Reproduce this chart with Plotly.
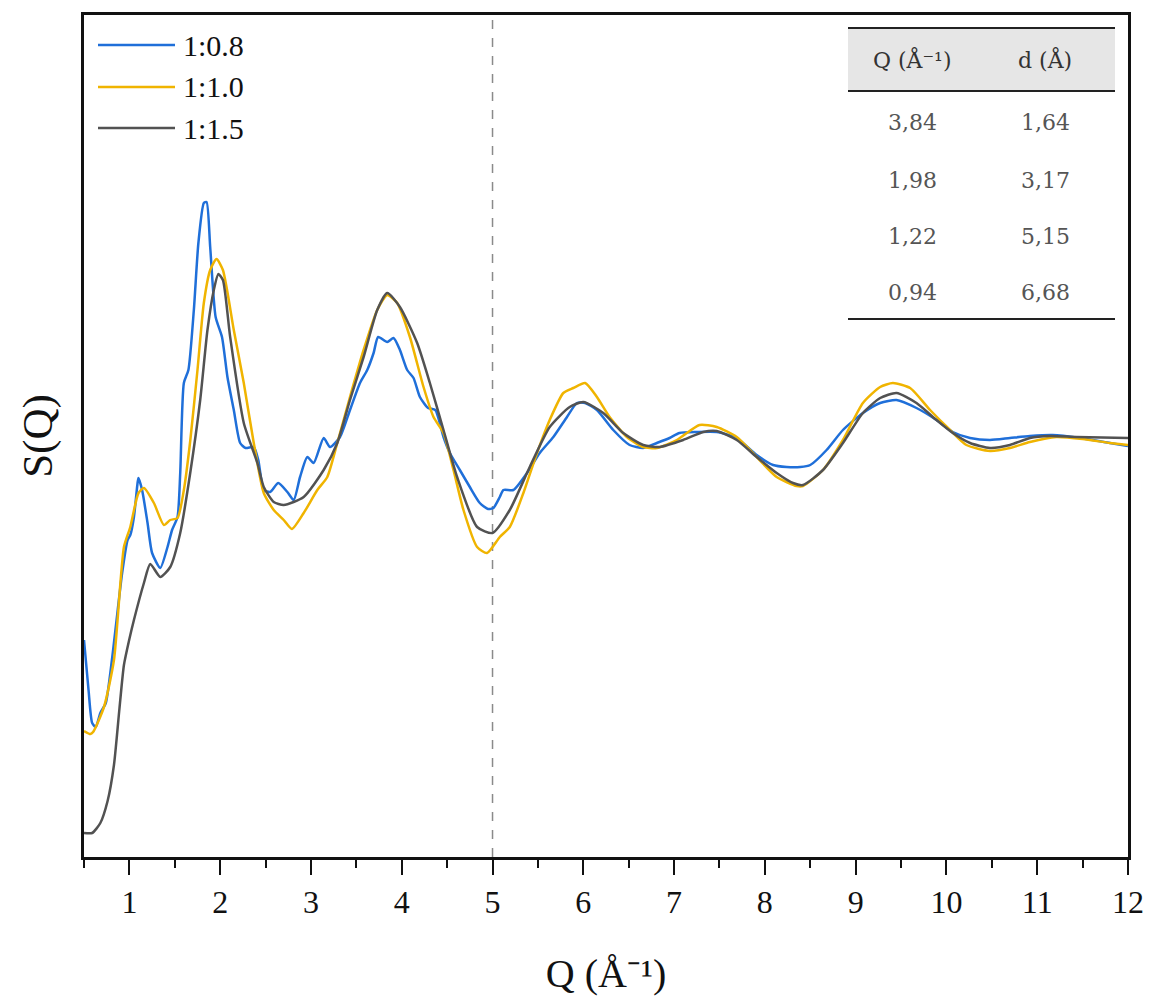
import plotly.graph_objects as go

# ---------------- data ----------------
series_names = ["1:0.8", "1:1.0", "1:1.5"]
series_colors = ["#1f6fd9", "#f0b400", "#525252"]

q_08 = [0.50, 0.55, 0.59, 0.63, 0.68, 0.74, 0.79, 0.85, 0.92, 0.98, 1.01, 1.05, 1.09, 1.10, 1.14,
        1.20, 1.25, 1.34, 1.42, 1.47, 1.53, 1.56, 1.60, 1.65, 1.71, 1.76, 1.82, 1.85, 1.89, 1.95,
        2.02, 2.08, 2.15, 2.22, 2.28, 2.37, 2.42, 2.48, 2.55, 2.64, 2.74, 2.81, 2.88, 2.96, 3.03,
        3.14, 3.21, 3.32, 3.43, 3.54, 3.62, 3.69, 3.74, 3.84, 3.91, 3.98, 4.06, 4.13, 4.20, 4.29,
        4.37, 4.46, 4.53, 4.64, 4.75, 4.86, 4.95, 5.01, 5.08, 5.12, 5.23, 5.38, 5.52, 5.67, 5.82,
        5.93, 6.02, 6.15, 6.33, 6.51, 6.66, 6.81, 6.95, 7.06, 7.25, 7.47, 7.69, 7.91, 8.09, 8.24,
        8.39, 8.50, 8.68, 8.86, 9.08, 9.27, 9.45, 9.67, 9.89, 10.07, 10.26, 10.48, 10.70, 10.92,
        11.17, 11.47, 11.80, 12.00]
s_08 = [0.5425, 0.4175, 0.335, 0.325, 0.36, 0.385, 0.46, 0.575, 0.71, 0.7925, 0.805, 0.85, 0.935,
        0.9475, 0.9175, 0.835, 0.76, 0.7225, 0.775, 0.8175, 0.85, 0.96, 1.185, 1.2175, 1.3675,
        1.535, 1.635, 1.6375, 1.525, 1.35, 1.30, 1.20, 1.1175, 1.035, 1.0225, 1.025, 0.9925,
        0.9175, 0.9125, 0.935, 0.9125, 0.8925, 0.95, 1.00, 0.985, 1.0475, 1.025, 1.05, 1.1175,
        1.185, 1.2175, 1.26, 1.30, 1.2875, 1.2975, 1.2675, 1.2175, 1.1975, 1.15, 1.1225, 1.1175,
        1.05, 1.01, 0.9675, 0.925, 0.885, 0.87, 0.8725, 0.90, 0.9175, 0.9175, 0.96, 1.01, 1.05,
        1.10, 1.135, 1.135, 1.1175, 1.0675, 1.03, 1.0225, 1.035, 1.0475, 1.06, 1.0625, 1.0625,
        1.0475, 1.005, 0.98, 0.975, 0.975, 0.98, 1.0175, 1.0675, 1.11, 1.135, 1.1425, 1.1225,
        1.0925, 1.0625, 1.0475, 1.0425, 1.0475, 1.0525, 1.055, 1.0475, 1.035, 1.0275]

q_10 = [0.50, 0.57, 0.60, 0.72, 0.83, 0.94, 1.01, 1.10, 1.16, 1.27, 1.38, 1.45, 1.53, 1.60, 1.67,
        1.75, 1.82, 1.89, 1.96, 2.03, 2.15, 2.26, 2.37, 2.48, 2.59, 2.70, 2.79, 2.92, 3.07, 3.18,
        3.29, 3.43, 3.58, 3.73, 3.84, 3.95, 4.09, 4.24, 4.35, 4.46, 4.57, 4.68, 4.83, 4.94, 5.08,
        5.19, 5.34, 5.49, 5.63, 5.78, 5.89, 6.02, 6.15, 6.29, 6.48, 6.66, 6.81, 7.03, 7.28, 7.47,
        7.69, 7.91, 8.13, 8.35, 8.42, 8.64, 8.86, 9.08, 9.27, 9.41, 9.60, 9.82, 10.04, 10.22,
        10.48, 10.70, 10.92, 11.21, 11.50, 11.80, 12.00]
s_10 = [0.315, 0.3075, 0.3125, 0.375, 0.4925, 0.775, 0.825, 0.91, 0.9225, 0.885, 0.83, 0.8425,
        0.8475, 0.9175, 1.04, 1.2175, 1.385, 1.4675, 1.495, 1.4675, 1.3175, 1.185, 1.035, 0.91,
        0.8675, 0.8425, 0.82, 0.86, 0.9175, 0.95, 1.035, 1.15, 1.2675, 1.3675, 1.405, 1.385, 1.30,
        1.175, 1.10, 1.06, 0.9675, 0.8675, 0.775, 0.76, 0.80, 0.825, 0.91, 1.01, 1.0925, 1.16,
        1.1725, 1.185, 1.15, 1.10, 1.05, 1.025, 1.0225, 1.0425, 1.08, 1.075, 1.05, 1.00, 0.95,
        0.9275, 0.9275, 0.9675, 1.0425, 1.135, 1.175, 1.185, 1.1725, 1.1175, 1.0675, 1.03, 1.015,
        1.0225, 1.0375, 1.05, 1.045, 1.035, 1.03]

q_15 = [0.50, 0.59, 0.68, 0.76, 0.83, 0.89, 0.94, 1.00, 1.05, 1.16, 1.23, 1.34, 1.45, 1.56, 1.67,
        1.78, 1.86, 1.93, 1.98, 2.03, 2.11, 2.26, 2.41, 2.48, 2.59, 2.70, 2.92, 3.14, 3.29, 3.43,
        3.58, 3.73, 3.84, 3.98, 4.17, 4.31, 4.46, 4.61, 4.83, 5.00, 5.19, 5.41, 5.63, 5.85, 6.00,
        6.22, 6.44, 6.66, 6.84, 7.10, 7.32, 7.47, 7.69, 7.91, 8.13, 8.31, 8.42, 8.64, 8.86, 9.08,
        9.27, 9.45, 9.67, 9.89, 10.07, 10.26, 10.48, 10.70, 10.92, 11.14, 11.43, 12.00]
s_15 = [0.06, 0.06, 0.085, 0.14, 0.23, 0.37, 0.48, 0.545, 0.5925, 0.685, 0.7325, 0.70, 0.725,
        0.81, 0.96, 1.1425, 1.3175, 1.4175, 1.4575, 1.4425, 1.30, 1.085, 0.985, 0.925, 0.8875,
        0.88, 0.90, 0.9675, 1.035, 1.1425, 1.25, 1.3675, 1.41, 1.375, 1.285, 1.185, 1.0675, 0.95,
        0.825, 0.81, 0.8675, 0.975, 1.075, 1.125, 1.1375, 1.11, 1.06, 1.03, 1.025, 1.0425, 1.0625,
        1.065, 1.0425, 1.00, 0.96, 0.935, 0.93, 0.9675, 1.035, 1.11, 1.1475, 1.16, 1.135, 1.0925,
        1.06, 1.035, 1.0225, 1.03, 1.0475, 1.0525, 1.05, 1.0475]

table_header = ["Q (Å⁻¹)", "d (Å)"]
table_q = ["3,84", "1,98", "1,22", "0,94"]
table_d = ["1,64", "3,17", "5,15", "6,68"]

marker_q = 5.0
x_range = [0.5, 12]
y_range = [0.0, 2.105]

# ---------------- layout geometry (pixels) ----------------
W, H = 1150, 999
L, R, T, B = 84, 22, 15, 142
PW, PH = W - L - R, H - T - B

def px(xp):
    return (xp - L) / PW

def py(yp):
    return (H - B - yp) / PH

FONT = "Liberation Serif, Times New Roman, serif"
TFONT = "DejaVu Serif, serif"

fig = go.Figure()
series = [(q_08, s_08), (q_10, s_10), (q_15, s_15)]
for (q, s), name, col in zip(series, series_names, series_colors):
    fig.add_trace(go.Scatter(x=q, y=s, mode="lines", name=name,
                             line=dict(color=col, width=2.5, shape="spline", smoothing=0.6),
                             showlegend=False))

shapes = []
annotations = []

# vertical dashed marker
shapes.append(dict(type="line", xref="x", yref="paper", x0=marker_q, x1=marker_q, y0=0, y1=1,
                   line=dict(color="#8a8a8a", width=1.5, dash="dash"), layer="below"))

# manual legend
leg_y = [45, 87, 128]
for name, col, yy in zip(series_names, series_colors, leg_y):
    shapes.append(dict(type="line", xref="paper", yref="paper", x0=px(98), x1=px(175),
                       y0=py(yy), y1=py(yy), line=dict(color=col, width=2.5)))
    annotations.append(dict(xref="paper", yref="paper", x=px(181), y=py(yy), text=name,
                            showarrow=False, xanchor="left", yanchor="middle",
                            font=dict(family=FONT, size=30, color="#111")))

# table
tx0, tx1 = px(848), px(1115)
shapes.append(dict(type="rect", xref="paper", yref="paper", x0=tx0, x1=tx1, y0=py(91), y1=py(28),
                   fillcolor="#e6e6e6", line=dict(width=0), layer="below"))
for yy in [28, 91, 319]:
    shapes.append(dict(type="line", xref="paper", yref="paper", x0=tx0, x1=tx1, y0=py(yy), y1=py(yy),
                       line=dict(color="#222", width=2)))
col_x = [px(912), px(1045)]
for txt, cx in zip(table_header, col_x):
    annotations.append(dict(xref="paper", yref="paper", x=cx, y=py(60), text=txt, showarrow=False,
                            xanchor="center", yanchor="middle",
                            font=dict(family=TFONT, size=22, color="#333")))
row_y = [123, 180, 236, 292]
for qv, dv, yy in zip(table_q, table_d, row_y):
    for txt, cx in zip([qv, dv], col_x):
        annotations.append(dict(xref="paper", yref="paper", x=cx, y=py(yy), text=txt, showarrow=False,
                                xanchor="center", yanchor="middle",
                                font=dict(family=TFONT, size=22, color="#555")))

fig.update_layout(
    width=W, height=H,
    margin=dict(l=L, r=R, t=T, b=B, autoexpand=False),
    paper_bgcolor="white", plot_bgcolor="white",
    shapes=shapes, annotations=annotations,
    font=dict(family=FONT, color="#111"),
    showlegend=False,
)
fig.update_xaxes(
    range=x_range, showgrid=False, zeroline=False, automargin=False,
    showline=True, linecolor="#111", linewidth=2.5, mirror=True,
    ticks="outside", ticklen=15, tickwidth=2, tickcolor="#111",
    tick0=0, dtick=1,
    minor=dict(ticks="outside", dtick=0.5, tick0=0, ticklen=8, tickwidth=2, tickcolor="#111"),
    tickfont=dict(family=FONT, size=32, color="#111"),
    title=dict(text="Q (Å⁻¹)", font=dict(family=FONT, size=40, color="#111"), standoff=40),
)
fig.update_yaxes(
    range=y_range, showgrid=False, zeroline=False, showticklabels=False, ticks="", automargin=False,
    showline=True, linecolor="#111", linewidth=2.5, mirror=True,
    title=dict(text="S(Q)", font=dict(family=FONT, size=43, color="#111"), standoff=16),
)

fig.write_html("out.html", config={"displayModeBar": False, "responsive": False},
               post_script="document.body.style.margin='0px';")
